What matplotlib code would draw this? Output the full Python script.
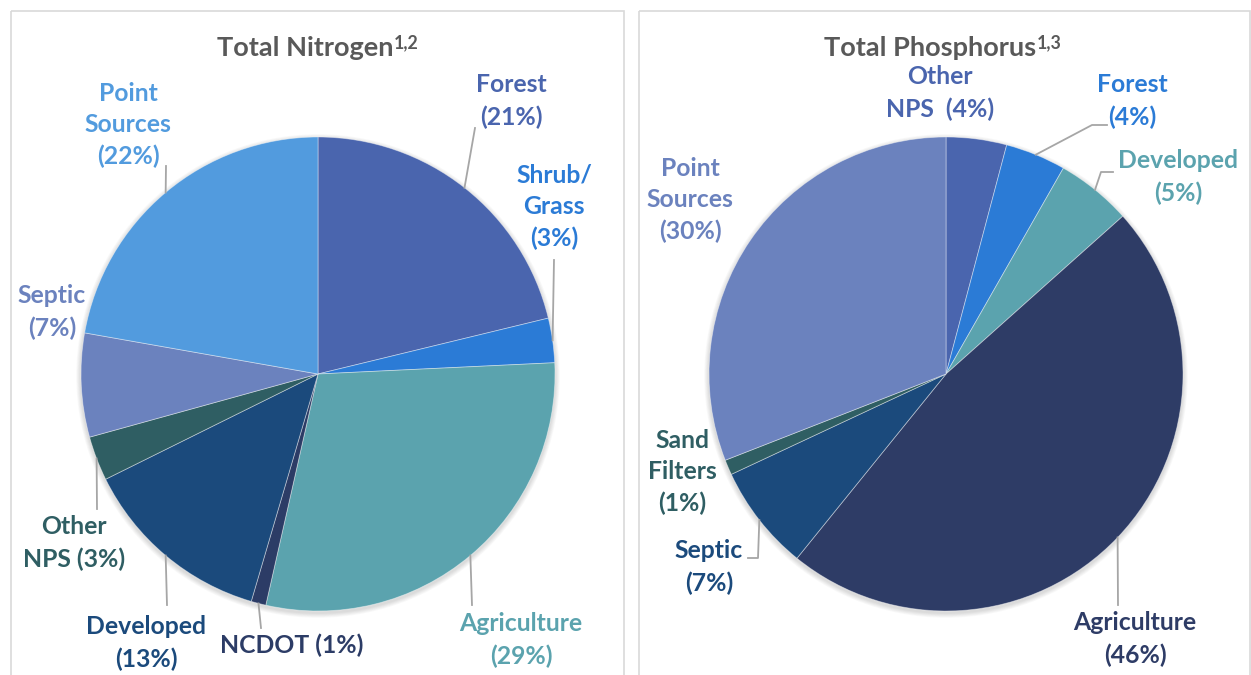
import numpy as np
import matplotlib
matplotlib.use("Agg")
import matplotlib.pyplot as plt
from matplotlib.patches import Rectangle, Circle

# ---- data ----
n_labels = ["Forest", "Shrub/\nGrass", "Agriculture", "NCDOT", "Developed",
            "Other\nNPS", "Septic", "Point\nSources"]
n_values = [21, 3, 29, 1, 13, 3, 7, 22]
n_colors = ["#4A65AE", "#2B7BD6", "#5BA3AE", "#2C3C66", "#1B4A7C",
            "#2F5E63", "#6B82BE", "#529BDE"]

p_labels = ["Other\nNPS ", "Forest", "Developed", "Agriculture", "Septic",
            "Sand\nFilters", "Point\nSources"]
p_values = [4, 4, 5, 46, 7, 1, 30]
p_colors = ["#4A65AE", "#2B7BD6", "#5BA3AE", "#2E3C66", "#1B4A7C",
            "#2F5E63", "#6B82BE"]

# ---- layout (pixel coords, y down) ----
W, H = 1251, 675
R = 237
n_center = (318, 374)
p_center = (946, 374)

# label centres, and whether "(x%)" goes on the same line
n_lab_pos = [(511, 101), (554, 207), (521, 640), (292, 645), (146, 643),
             (74, 543), (52, 312), (128, 125)]
n_same_line = [False, False, False, True, False, True, False, False]
# leader: points after the wedge edge point (None = no leader)
n_leaders = [[(475, 128)], [(554, 260)], [(472, 605)], [(261, 628)],
             [(167, 605)], [(97, 509)], None, [(166, 166)]]

p_lab_pos = [(940, 93), (1132, 101), (1178, 177), (1135, 639), (709, 567),
             (682, 472), (690, 200)]
p_same_line = [True, False, False, False, False, False, False]
p_leaders = [None, [(1092, 125), (1107, 125)], [(1101, 172), (1113, 172)],
             [(1118, 605)], [(758, 558), (748, 558)], None, None]

FONT = "Lato"
FS = 17.8
TFS = 19.5
plt.rcParams["font.family"] = [FONT, "DejaVu Sans"]

fig = plt.figure(figsize=(W / 100, H / 100), dpi=100)
ax = fig.add_axes([0, 0, 1, 1])

# panel frames
ax.add_patch(Rectangle((11, 11), 613, 680, fill=False, ec="#D9D9D9", lw=1.2))
ax.add_patch(Rectangle((639, 11), 611, 680, fill=False, ec="#D9D9D9", lw=1.2))


def draw_pie(values, colors, labels, center, lab_pos, same_line, leaders, title, toff):
    cx, cy = center
    # soft shadow
    for k in range(6, 0, -1):
        ax.add_patch(Circle((cx, cy + 2), R + k * 0.8, color="black",
                            alpha=0.025, lw=0, zorder=1))
    wedges, _ = ax.pie(values, colors=colors, startangle=-90, counterclock=True,
                       center=center, radius=R,
                       wedgeprops=dict(edgecolor=(1, 1, 1, 0.45), linewidth=0.6))
    for w in wedges:
        w.set_zorder(2)
    for w, lab, v, pos, same, ld, col in zip(wedges, labels, values, lab_pos,
                                             same_line, leaders, colors):
        pct = "(%d%%)" % v
        txt = lab + " " + pct if same else lab + "\n" + pct
        ax.text(pos[0], pos[1], txt, ha="center", va="center", color=col,
                fontsize=FS, fontweight="bold", linespacing=1.45, zorder=5)
        if ld is not None:
            mid = np.deg2rad((w.theta1 + w.theta2) / 2)
            sx, sy = cx + R * np.cos(mid), cy + R * np.sin(mid)
            xs = [sx] + [p[0] for p in ld]
            ys = [sy] + [p[1] for p in ld]
            ax.plot(xs, ys, color="#A6A6A6", lw=1.3, zorder=4)
    t = ax.text(cx + toff, 48, title, ha="center", va="center", color="#595959",
                fontsize=TFS, fontweight="bold", zorder=5)
    return t


t1 = draw_pie(n_values, n_colors, n_labels, n_center, n_lab_pos, n_same_line,
              n_leaders, "Total Nitrogen", -13)
t2 = draw_pie(p_values, p_colors, p_labels, p_center, p_lab_pos, p_same_line,
              p_leaders, "Total Phosphorus", -16)

ax.set_xlim(0, W)
ax.set_ylim(H, 0)
ax.axis("off")

# superscripts after the titles
fig.canvas.draw()
r = fig.canvas.get_renderer()
for t, s in [(t1, "1,2"), (t2, "1,3")]:
    bb = t.get_window_extent(r)
    ytop = H - bb.y1
    ax.text(bb.x1 + 1, ytop - 2, s, ha="left", va="top", color="#595959",
            fontsize=TFS * 0.66, fontweight="bold", zorder=5)

fig.savefig("out.png", dpi=100)
